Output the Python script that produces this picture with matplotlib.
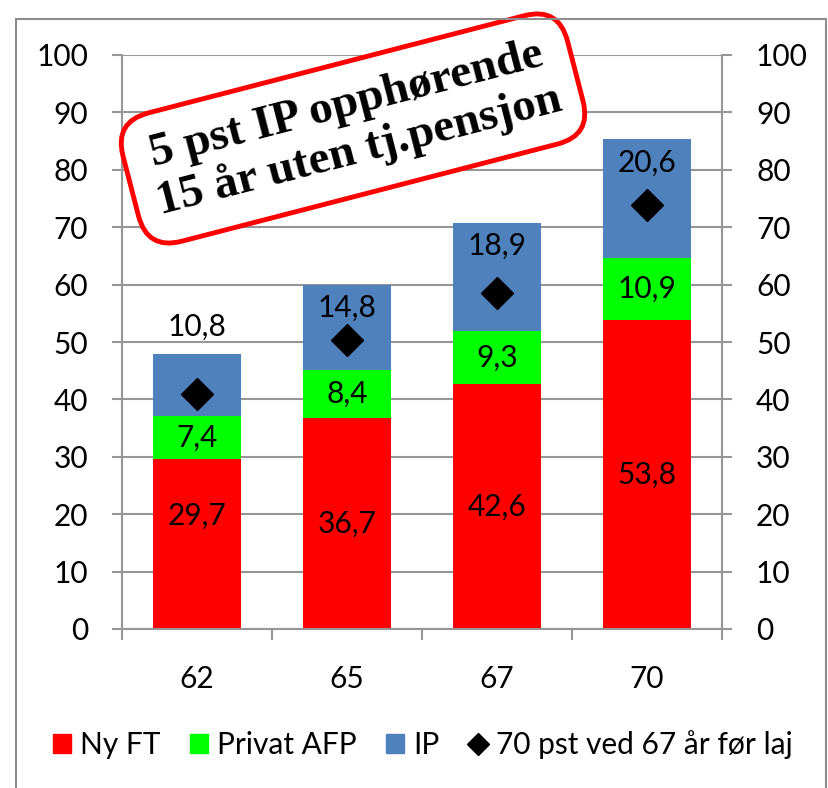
import matplotlib.pyplot as plt
from matplotlib.lines import Line2D
from matplotlib.patches import Patch, Rectangle

# Data
ages = ["62", "65", "67", "70"]
ny_ft = [29.7, 36.7, 42.6, 53.8]
privat_afp = [7.4, 8.4, 9.3, 10.9]
ip = [10.8, 14.8, 18.9, 20.6]
pst70_ved67 = [41.0, 50.4, 58.5, 73.9]

red = "#FF0000"
green = "#00FF00"
blue = "#4F81BD"
grid_gray = "#969696"

plt.rcParams['font.family'] = ['Lato', 'DejaVu Sans']
fs = 21.5

fig = plt.figure(figsize=(8.29, 7.88), dpi=100)
ax = fig.add_axes([122 / 829, 1 - 629 / 788, 600 / 829, 574 / 788])

x = list(range(len(ages)))
w = 0.59
bottom2 = [a for a in ny_ft]
bottom3 = [a + b for a, b in zip(ny_ft, privat_afp)]

ax.bar(x, ny_ft, w, color=red, zorder=2)
ax.bar(x, privat_afp, w, bottom=bottom2, color=green, zorder=2)
ax.bar(x, ip, w, bottom=bottom3, color=blue, zorder=2)
ax.plot(x, pst70_ved67, linestyle='none', marker='D', color='black',
        markersize=16, zorder=4)

# Value labels
fmt = lambda v: f"{v:.1f}".replace(".", ",")
for i in x:
    y1 = ny_ft[i] / 2 + (4.8 if i == 0 else 0)
    ax.text(i, y1, fmt(ny_ft[i]), ha='center', va='center', fontsize=fs, zorder=5)
    ax.text(i, bottom2[i] + privat_afp[i] / 2, fmt(privat_afp[i]),
            ha='center', va='center', fontsize=fs, zorder=5)
    top = bottom3[i] + ip[i]
    y3 = top + 4.7 if i == 0 else top - 4.0
    ax.text(i, y3, fmt(ip[i]), ha='center', va='center', fontsize=fs, zorder=5)

ax.set_xlim(-0.5, 3.5)
ax.set_ylim(0, 100)
ax.set_yticks(range(0, 101, 10))
ax.set_xticks([-0.5, 0.5, 1.5, 2.5, 3.5], minor=False)
ax.set_xticklabels([])
ax.set_xticks(x, minor=True)
ax.set_xticklabels(ages, minor=True)
ax.tick_params(axis='x', which='major', length=8, width=1.5, color=grid_gray, direction='out')
ax.tick_params(axis='x', which='minor', length=0, pad=26, labelsize=fs)
ax.tick_params(axis='y', which='major', length=7.5, width=1.5, color=grid_gray,
               direction='out', left=True, right=True, labelleft=True, labelright=True,
               labelsize=fs, pad=17)
ax.yaxis.grid(True, color=grid_gray, linewidth=1.5, zorder=0)
ax.set_axisbelow(True)
for s in ['left', 'right', 'bottom']:
    ax.spines[s].set_color(grid_gray)
    ax.spines[s].set_linewidth(1.5)
ax.spines['top'].set_visible(False)

# Rotated callout box
ax.text(1.04, 87.2, "5 pst IP opphørende\n15 år uten tj.pensjon", ha='center', va='center',
        rotation=14.5, fontsize=34, fontweight='bold', family='Liberation Serif',
        linespacing=1.12, zorder=6,
        bbox=dict(boxstyle='round,pad=0.45,rounding_size=0.75', facecolor='white',
                  edgecolor=red, linewidth=3.5))

# Legend
handles = [Patch(color=red, label="Ny FT"),
           Patch(color=green, label="Privat AFP"),
           Patch(color=blue, label="IP"),
           Line2D([], [], linestyle='none', marker='D', color='black', markersize=11,
                  label="70 pst ved 67 år før laj")]
fig.legend(handles=handles, loc='center', bbox_to_anchor=(0.51, 1 - 745 / 788), ncol=4,
           frameon=False, fontsize=fs, handlelength=0.6, handleheight=0.6,
           handletextpad=0.3, columnspacing=1.0, borderpad=0)

# Outer chart border
fig.patches.append(Rectangle((16 / 829, -0.05), 810 / 829, 1.05 - 19 / 788,
                             transform=fig.transFigure, fill=False,
                             edgecolor='#8C8C8C', linewidth=1.5))

fig.savefig("out.png", dpi=100)
